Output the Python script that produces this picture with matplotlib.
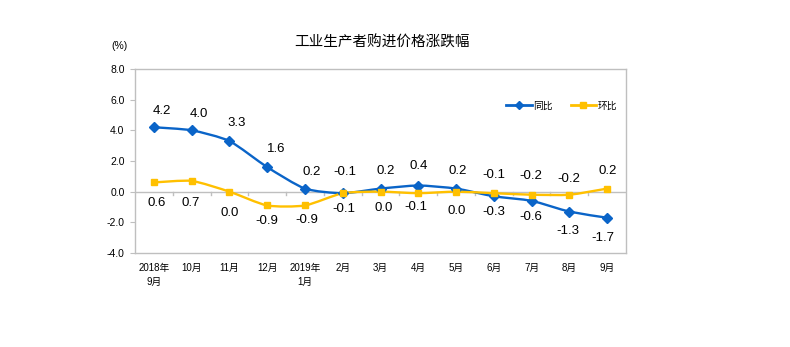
import matplotlib
matplotlib.use('Agg')
import matplotlib.pyplot as plt
from matplotlib.path import Path
from matplotlib.patches import PathPatch
from matplotlib.lines import Line2D
import numpy as np

plt.rcParams['font.family'] = ['Liberation Sans', 'Noto Sans CJK SC', 'DejaVu Sans']

title = '工业生产者购进价格涨跌幅'
categories = ['2018年\n9月', '10月', '11月', '12月', '2019年\n1月', '2月', '3月',
              '4月', '5月', '6月', '7月', '8月', '9月']
yoy = [4.2, 4.0, 3.3, 1.6, 0.2, -0.1, 0.2, 0.4, 0.2, -0.3, -0.6, -1.3, -1.7]
mom = [0.6, 0.7, 0.0, -0.9, -0.9, -0.1, 0.0, -0.1, 0.0, -0.1, -0.2, -0.2, 0.2]
yoy_name = '同比'
mom_name = '环比'
yticks = [-4.0, -2.0, 0.0, 2.0, 4.0, 6.0, 8.0]

# data-label placement (pixel offsets from each point), style only
yoy_dx = [8, 7, 7, 9, 7, 2, 5, 0, 2, 0, -1, -1, -4]
yoy_dy = [16, 16, 18, 18, 17, 21, 18, 20, 18, -16, -16, -19, -20]
mom_dx = [3, -1, 0, 0, 2, 1, 3, -2, 1, 0, -1, -1, 1]
mom_dy = [-21, -22, -21, -16, -15, -16, -16, -14, -19, 18, 19, 16, 18]

BLUE = '#0A64C8'
YELLOW = '#FFC000'
GRAY = '#BFBFBF'
PX = 72.0 / 100.0  # points per pixel


def smooth_path(xs, ys, k=0.11):
    pts = np.column_stack([xs, ys]).astype(float)
    n = len(pts)
    verts = [pts[0]]
    codes = [Path.MOVETO]
    for i in range(n - 1):
        p0 = pts[i - 1] if i > 0 else pts[i]
        p1 = pts[i]
        p2 = pts[i + 1]
        p3 = pts[i + 2] if i + 2 < n else pts[i + 1]
        c1 = p1 + (p2 - p0) * k
        c2 = p2 - (p3 - p1) * k
        verts += [c1, c2, p2]
        codes += [Path.CURVE4] * 3
    return Path(verts, codes)


fig = plt.figure(figsize=(7.9, 3.47), dpi=100)
ax = fig.add_axes([0.1709, 0.2709, 0.7924 - 0.1709, 0.8012 - 0.2709])

x = np.arange(len(categories))
for vals, color, marker, ms in [(yoy, BLUE, 'D', 5.5), (mom, YELLOW, 's', 4.8)]:
    ax.add_patch(PathPatch(smooth_path(x, vals), facecolor='none', edgecolor=color,
                           lw=1.7, zorder=3))
    ax.plot(x, vals, linestyle='none', marker=marker, ms=ms, color=color, zorder=4)

ax.set_xlim(-0.5, len(categories) - 0.5)
ax.set_ylim(-4.0, 8.0)
ax.set_yticks(yticks)
ax.set_yticklabels([f'{v:.1f}' for v in yticks], fontsize=7.5)
ax.set_xticks([])

for s in ['left', 'right', 'top', 'bottom']:
    ax.spines[s].set_color(GRAY)
    ax.spines[s].set_linewidth(1.0)
ax.tick_params(axis='y', length=3.5, color=GRAY, pad=4)

# horizontal axis line at 0 with category-boundary ticks
ax.axhline(0, color=GRAY, lw=1.0, zorder=1)
for b in np.arange(0.5, len(categories) - 0.5, 1.0):
    ax.plot([b, b], [0, -0.25], color=GRAY, lw=1.0, zorder=1, clip_on=False)

# category labels below the plot
for xi, lab in zip(x, categories):
    ax.annotate(lab, xy=(xi, -4.0), xytext=(0, -7), textcoords='offset points',
                ha='center', va='top', fontsize=7, linespacing=1.5)

# data labels
for i, (a, b) in enumerate(zip(yoy, mom)):
    ax.annotate(f'{a:.1f}', xy=(i, a), xytext=(yoy_dx[i] * PX, yoy_dy[i] * PX),
                textcoords='offset points', ha='center', va='center', fontsize=9.5)
    ax.annotate(f'{b:.1f}', xy=(i, b), xytext=(mom_dx[i] * PX, mom_dy[i] * PX),
                textcoords='offset points', ha='center', va='center', fontsize=9.5)

handles = [Line2D([], [], color=BLUE, lw=2, marker='D', ms=4),
           Line2D([], [], color=YELLOW, lw=2, marker='s', ms=4)]
ax.legend(handles, [yoy_name, mom_name], loc='center right', bbox_to_anchor=(1.0, 0.8),
          ncol=2, frameon=False, fontsize=7, handlelength=2.6, handletextpad=0.2,
          columnspacing=1.8)

fig.text(0.4835, 0.876, title, ha='center', va='center', fontsize=10.5)
fig.text(0.151, 0.868, '(%)', ha='center', va='center', fontsize=7.5)

fig.savefig('out.png', dpi=100)
